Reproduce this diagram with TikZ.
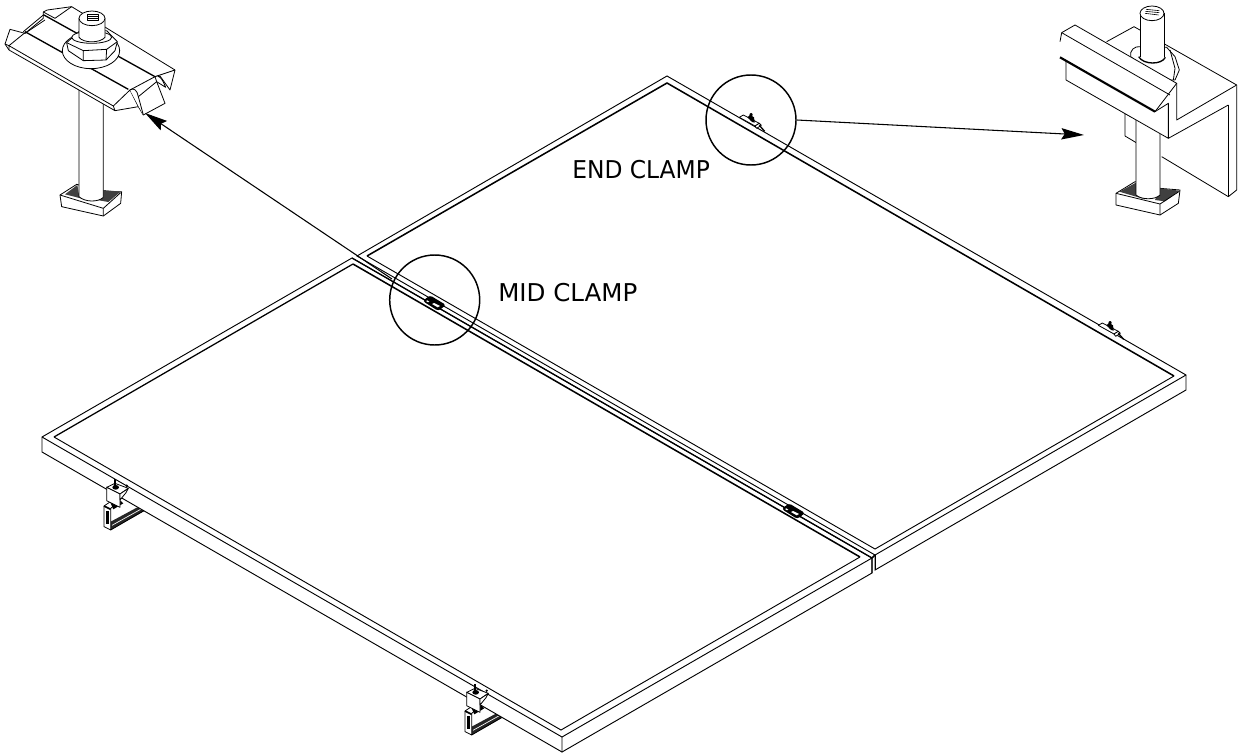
\documentclass[tikz,border=0pt]{standalone}
\usepackage{fontspec}
\usepackage{graphicx}
\setmainfont{DejaVu Sans}
\usetikzlibrary{arrows.meta}
\tikzset{
  edge/.style={line width=0.7pt,line join=miter},
  inner/.style={line width=1.15pt,line join=miter},
  midline/.style={line width=0.95pt,line join=miter},
  ring/.style={draw,circle,line width=1.1pt,inner sep=0pt,minimum size=67.5pt},
  det/.style={line width=0.6pt,line join=round,fill=white},
  fine/.style={line width=0.45pt},
  lab/.style={font=\fontsize{18.4pt}{20pt}\selectfont,inner sep=0pt,anchor=west},
  lead/.style={line width=0.8pt,-{Stealth[length=17pt,width=8.5pt,inset=2.5pt]}},
  zoomed/.style 2 args={x=.25pt,y=-.25pt,xshift=#1*.75pt,yshift=-#2*.75pt}
}
\newcommand{\railpart}[2]{%
 \begin{scope}[zoomed={#1}{#2}]
  \fill[black!85] (272,305)--(352,262)--(375,272)--(272,330)--cycle;
  \draw[det,fill=none] (272,330)--(375,270);
  \draw[white,line width=.5pt] (276,316)--(362,268);
  \draw[det] (252,258)--(270,246)--(285,255)--(272,265)--(272,330)--(252,320)--cycle;
  \draw[line width=1.2pt] (252,258)--(272,268);
  \fill[black] (258,272) rectangle (266,312);
  \fill[black] (272,250)--(300,240)--(310,250)--(280,268)--cycle;
 \end{scope}}
\newcommand{\blockpart}[2]{%
 \begin{scope}[zoomed={#1}{#2}]
  \draw[det] (260,202)--(285,190)--(325,205)--(300,222)--cycle;
  \draw[det] (260,202)--(260,242)--(300,262)--(300,222)--cycle;
  \draw[det] (300,222)--(325,205)--(318,218)--(300,240)--cycle;
  \fill[black] (287,202) ellipse (10 and 7);
  \draw[line width=1.6pt] (285,178)--(285,200);
  \fill[black] (320,197) circle (4);
 \end{scope}}
\newcommand{\edgeclamp}[2]{%
 \begin{scope}[zoomed={#1}{#2}]
  \draw[det] (298,172)--(345,198)--(358,190)--(310,165)--cycle;
  \draw[det] (345,198)--(350,205)--(364,196)--(358,190)--cycle;
  \draw[line width=1pt] (358,196)--(374,214);
  \fill[black] (322,172)--(330,165)--(342,172)--(344,188)--(336,186)--cycle;
  \draw[line width=1.6pt] (333,160)--(335,182);
  \fill[black] (333,164) circle (5);
 \end{scope}}
\newcommand{\jointclamp}[2]{%
 \begin{scope}[zoomed={#1}{#2}]
  \fill[black,rounded corners=2pt] (248,213)--(270,196)--(318,225)--(295,243)--cycle;
  \fill[white] (276,222)--(282,219)--(300,228)--(293,232)--cycle;
  \fill[white] (258,213)--(262,211)--(268,215)--(264,217)--cycle;
 \end{scope}}
\begin{document}
\begin{tikzpicture}[x=.75pt,y=-.75pt]
\useasboundingbox (0,0) rectangle (1241,756);
\railpart{20}{420}
\railpart{381}{625}
% right panel
\coordinate (rT) at (667,76);
\coordinate (rR) at (1186,375);
\coordinate (rB) at (875,555);
\coordinate (rL) at (357,256);
\coordinate (riT) at (667,83);
\coordinate (riR) at (1174,376);
\coordinate (riB) at (875,549);
\coordinate (riL) at (367,256);
\coordinate (rRd) at (1186,390);
\coordinate (rBd) at (875,570);
\draw[edge,fill=white] (rL)--(rT)--(rR)--(rRd)--(rBd)--(rB)--cycle;
\draw[edge] (rB)--(rR);
\draw[inner] (riL)--(riT)--(riR);
\draw[edge] (riR)--(riB)--(riL);
% left panel
\coordinate (lT) at (352,258);
\coordinate (lL) at (42,437);
\coordinate (lB) at (562,737);
\coordinate (lR) at (872,558);
\coordinate (liT) at (353,264);
\coordinate (liL) at (54,437);
\coordinate (liB) at (561,730);
\coordinate (liR) at (860,557);
\coordinate (lLd) at (42,452);
\coordinate (lBd) at (562,752);
\coordinate (lRd) at (872,573);
\draw[edge,fill=white] (lT)--(lR)--(lRd)--(lBd)--(lLd)--(lL)--cycle;
\draw[edge] (lL)--(lB)--(lR) (lB)--(lBd);
\draw[midline] (lT)--(lR);
\draw[midline] (liL)--(liT);
\draw[inner] (liT)--(liR);
\draw[edge] (liL)--(liB)--(liR);
\draw[line width=1.1pt] (rB)--(lR)--(lRd);
\draw[edge] (rB)--(rBd);
% clamps on the panels
\blockpart{20}{420}
\blockpart{380}{625}
\jointclamp{340}{230}
\jointclamp{699}{438}
\edgeclamp{640}{60}
\edgeclamp{999}{268}
% mid clamp detail
\begin{scope}[zoomed={0}{0},line width=.6pt,line join=round]
  % base
  \draw[det] (180,585)--(230,553)--(308,575)--(365,575)--(362,610)--(310,648)--(185,620)--cycle;
  \fill[black!75] (195,583)--(232,555)--(238,590)--(262,600)--cycle;
  \fill[black!75] (292,600)--(310,570)--(362,575)--(325,606)--cycle;
  \draw (180,585)--(310,625)--(362,578) (310,625)--(310,648);
  % post
  \fill[white] (237,270)--(237,590) .. controls (255,607) and (295,607) .. (310,592)--(310,300)--cycle;
  \draw (237,270)--(237,590) .. controls (255,607) and (295,607) .. (310,592)--(310,300);
  % plate
  \draw[det] (30,88)--(75,100)--(130,55)--(130,36)--(142,30)--(215,20)--(525,210)--(510,270)--(480,228)--(470,245)--(495,310)--(430,345)--(415,320)--(345,332)--(27,150)--(15,132)--cycle;
  \draw (15,132)--(27,137)--(340,318)--(345,332) (27,137)--(27,150);
  \draw (27,137)--(75,98) (340,318)--(390,270) (390,270)--(415,320);
  \draw (130,36)--(165,55)--(215,20);
  \draw[line width=1pt] (75,95)--(385,268);
  \draw[line width=1pt] (130,44)--(465,230);
  \draw (75,100)--(135,60) (70,95)--(130,45);
  \draw[fill=white] (390,270) .. controls (400,262) and (412,270) .. (415,290)--(430,345);
  \draw (415,290)--(470,245) (390,270)--(465,230)--(525,210);
  \draw[fill=white] (465,230) .. controls (475,222) and (487,235) .. (497,262)--(470,245)--cycle;
  % washer and nut
  \draw[det] (273,152) ellipse (86 and 54);
  \draw[det] (200,128)--(240,92)--(320,92)--(352,125)--(345,152)--(318,180)--(250,182)--(205,152)--cycle;
  \draw (200,128)--(250,152)--(320,148)--(352,125) (250,152)--(250,182) (320,148)--(318,180);
  \draw[det] (275,112) ellipse (60 and 18);
  % bolt
  \draw[det] (237,55)--(237,112) .. controls (250,130) and (300,130) .. (315,112)--(315,55);
  \draw[det] (276,55) ellipse (39 and 22);
  \draw (262,44)--(296,44)--(296,62)--(262,62)--cycle;
  \draw[fine] (262,50)--(296,50) (262,56)--(296,56);
\end{scope}
% end clamp detail
\begin{scope}[zoomed={1060}{0},line width=.6pt,line join=round]
  % bracket
  \fill[white] (140,125)--(222,80)--(530,255)--(530,570)--(505,590)--(305,470)--(140,400)--cycle;
  \draw (140,125)--(222,80)--(530,255)--(530,570)--(505,590)--(305,470);
  \draw (505,315)--(505,590);
  % nut and washer behind
  \draw[det] (212,170) .. controls (208,150) and (225,138) .. (240,140)--(320,142)--(345,170)--(358,210)--(345,240)--(300,240)--cycle;
  \draw (330,150)--(345,205)--(340,240);
  % lower block
  \draw[det] (195,340)--(195,408)--(232,430)--(232,360)--cycle;
  % base
  \draw[det] (168,580)--(225,545)--(300,565)--(360,570)--(355,610)--(300,645)--(168,615)--cycle;
  \fill[black!75] (178,575)--(228,548)--(232,585)--(255,598)--cycle;
  \fill[black!75] (285,600)--(300,565)--(358,572)--(315,604)--cycle;
  \draw (168,580)--(300,612)--(358,574) (300,612)--(300,645);
  % lower post
  \fill[white] (228,340)--(228,585) .. controls (245,600) and (285,600) .. (300,585)--(300,380)--cycle;
  \draw (228,340)--(228,585) .. controls (245,600) and (285,600) .. (300,585)--(300,380);
  % bolt
  \fill[white] (240,40)--(240,172) .. controls (255,190) and (300,190) .. (312,172)--(312,40)--cycle;
  \draw (240,40)--(240,172) (312,40)--(312,172);
  \draw[line width=1pt] (236,170) .. controls (250,195) and (305,195) .. (316,172);
  \draw[det] (276,40) ellipse (36 and 22);
  \draw[fine] (258,28)--(298,32) (256,34)--(298,38) (255,40)--(296,45);
  % upper block
  \fill[white] (5,98)--(45,75)--(350,250)--(350,360)--(530,255)--(505,315)--(325,415)--(18,240)--(18,185)--(0,172)--cycle;
  \draw (5,98)--(45,75)--(350,250)--(285,335);
  \draw (5,98)--(330,285);
  \draw (5,98)--(0,125);
  \draw (285,335)--(325,310)--(325,415)--(18,240)--(18,182);
  \draw (350,250)--(350,360)--(530,255);
  \draw (325,415)--(505,315);
  \draw[line width=1.6pt] (0,172)--(285,335);
\end{scope}
% markers and leaders
\node[ring] (endring) at (751,120) {};
\node[ring] (midring) at (434.7,300) {};
\coordinate (endtip) at (1084,135);
\coordinate (midtip) at (145,113);
\coordinate (midstart) at (392,279);
\draw[lead] (endring.east)--(endtip);
\draw[lead] (midstart)--(midtip);
\node[lab] (endlabel) at (572,170) {\scalebox{0.952}[1]{END CLAMP}};
\node[lab] (midlabel) at (498,293) {MID CLAMP};
\end{tikzpicture}
\end{document}
